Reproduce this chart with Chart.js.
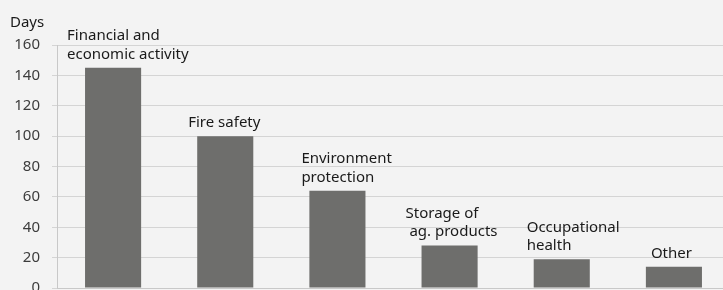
<!DOCTYPE html>
<html>
<head>
<meta charset="utf-8">
<script src="https://cdn.jsdelivr.net/npm/chart.js@4.4.1/dist/chart.umd.min.js"></script>
<style>
html,body{margin:0;padding:0;background:#f3f3f3;overflow:hidden;width:723px;height:290px;}
#wrap{width:723px;height:290px;overflow:hidden;position:relative;}
canvas{display:block;}
</style>
</head>
<body>
<div id="wrap"><canvas id="c" width="730" height="290" style="width:730px;height:290px"></canvas></div>
<script>
const categories = ["Financial and economic activity","Fire safety","Environment protection","Storage of ag. products","Occupational health","Other"];
const labelLines = [["Financial and","economic activity"],["Fire safety"],["Environment","protection"],["Storage of"," ag. products"],["Occupational","health"],["Other"]];
const days = [145, 100, 64, 28, 19, 14];
const yTicks = [0, 20, 40, 60, 80, 100, 120, 140, 160];
const unitLabel = "Days";

const FONT = "'Noto Sans', sans-serif";
const labelOffsets = [-18, -9, -8, -16, -7, 5];

const barLabels = {
  id: 'barLabels',
  afterDatasetsDraw(chart) {
    const ctx = chart.ctx;
    const meta = chart.getDatasetMeta(0);
    ctx.save();
    ctx.font = "15px " + FONT;
    ctx.fillStyle = "#1a1a1a";
    ctx.textAlign = "left";
    ctx.textBaseline = "alphabetic";
    meta.data.forEach((bar, i) => {
      const left = bar.x - bar.width / 2 + labelOffsets[i];
      const lines = labelLines[i];
      const lastBase = bar.y - 9;
      lines.forEach((ln, j) => {
        const y = lastBase - (lines.length - 1 - j) * 18.5;
        ctx.fillText(ln, left, y);
      });
    });
    ctx.fillText(unitLabel, 10, 26.5);
    ctx.restore();
  }
};

new Chart(document.getElementById('c'), {
  type: 'bar',
  data: {
    labels: categories,
    datasets: [{
      data: days,
      backgroundColor: '#6e6e6c',
      barPercentage: 0.5,
      categoryPercentage: 1.0
    }]
  },
  options: {
    responsive: false,
    animation: false,
    events: [],
    layout: { padding: { top: 45, bottom: 2, left: 0, right: 0 } },
    plugins: { legend: { display: false }, tooltip: { enabled: false }, title: { display: false } },
    scales: {
      x: {
        offset: true,
        grid: { display: false, drawTicks: false },
        border: { display: true, color: '#c8c8c8', width: 1 },
        ticks: { display: false },
        afterFit(s) { s.height = 0; s.paddingLeft = 0; s.paddingRight = 0; s.paddingTop = 0; s.paddingBottom = 0; }
      },
      y: {
        min: 0, max: 160,
        afterBuildTicks(s) { s.ticks = yTicks.map(v => ({ value: v })); },
        grid: { color: '#d4d4d4', lineWidth: 1, tickLength: 5, drawTicks: true },
        border: { display: true, color: '#c8c8c8', width: 1 },
        ticks: { color: '#3c3c3c', font: { family: FONT, size: 15 }, padding: 12 },
        afterFit(s) { s.width = 57; s.paddingTop = 0; s.paddingBottom = 0; s.paddingLeft = 0; s.paddingRight = 0; }
      }
    }
  },
  plugins: [barLabels]
});
</script>
</body>
</html>
